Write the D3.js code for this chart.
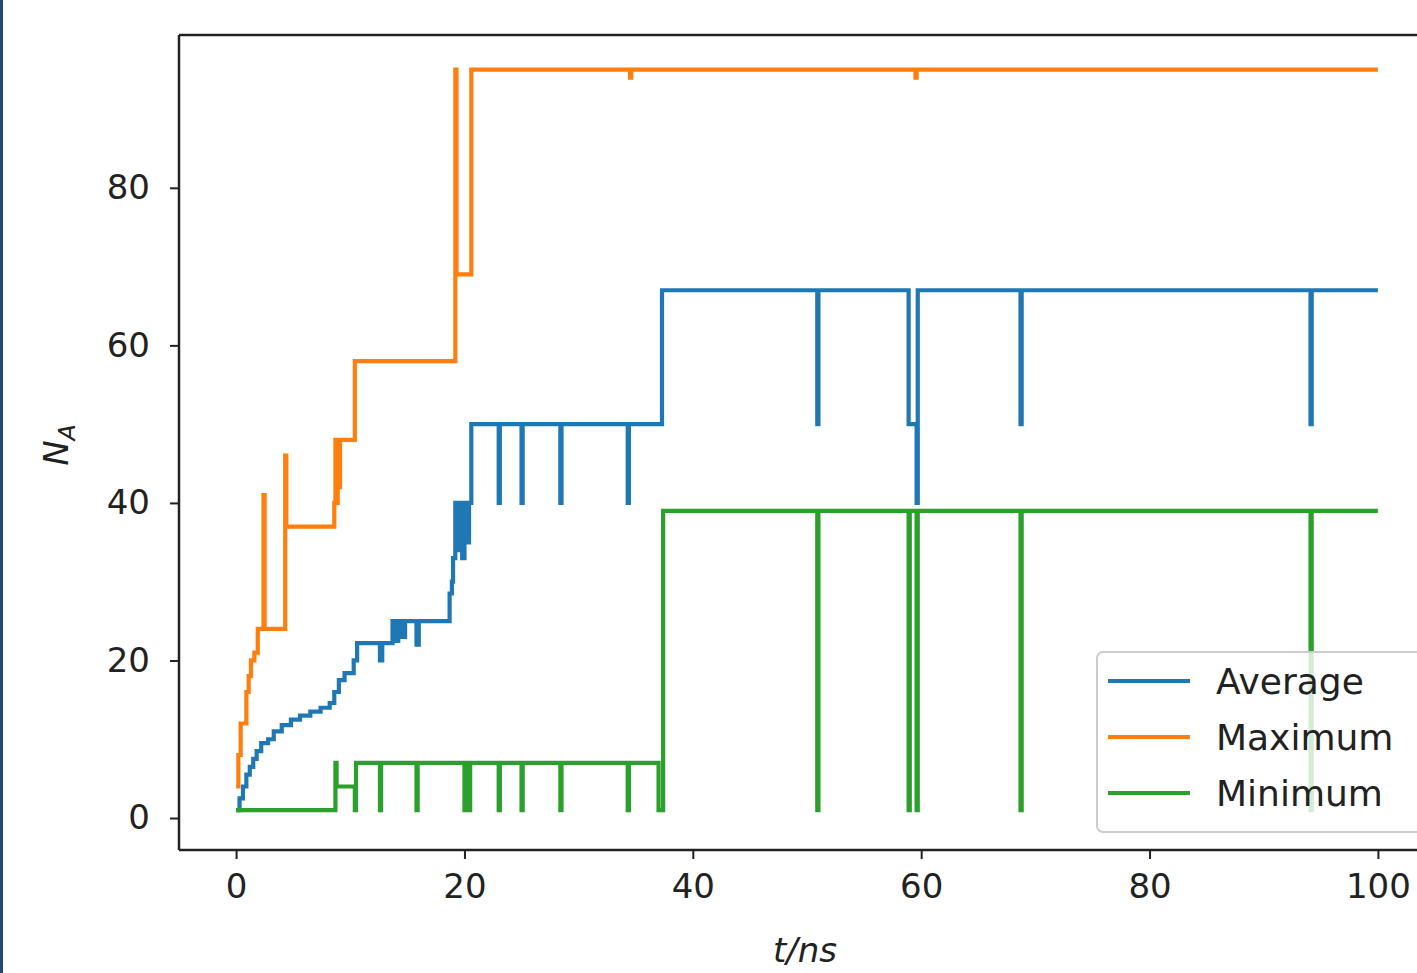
<!DOCTYPE html>
<html>
<head>
<meta charset="utf-8">
<script src="https://cdn.jsdelivr.net/npm/d3@7"></script>
<style>
  html, body { margin: 0; padding: 0; background: #fff; }
  svg { display: block; }
  text { font-family: "DejaVu Sans", sans-serif; fill: #222; }
</style>
</head>
<body>
<svg id="chart" width="1417" height="973"></svg>
<script>
// ---- data (t in ns, N_A) ----
const seriesNames = ["Average", "Maximum", "Minimum"];
const seriesColors = ["#1f77b4", "#ff7f0e", "#2ca02c"];

const averageT = [0,0.3,0.6,0.9,1.2,1.5,1.8,2.2,2.8,3.3,4.0,4.8,5.6,6.5,7.4,8.2,8.6,9.0,9.5,10.3,10.6,12.6,12.8,13.7,13.9,14.2,14.5,14.8,15.8,16.0,18.7,18.9,19.0,19.2,19.4,19.6,19.8,20.0,20.2,20.4,20.6,23.0,23.1,25.0,25.1,28.4,28.5,34.3,34.4,37.3,50.9,51.0,58.9,59.6,59.7,68.7,68.8,94.1,94.2,100];
const averageV = [1,2.5,4,5.5,6.5,7.5,8.5,9.5,10,11,11.8,12.5,13,13.5,14,14.6,16,17.5,18.4,20,22.2,20,22.2,25,22.5,25,23,25,22,25,28.5,30,33,40,34,40,33,40,35,40,50,40,50,40,50,40,50,40,50,67,50,67,50,40,67,50,67,50,67,67];

const maximumT = [0,0.2,0.4,0.7,0.9,1.1,1.3,1.6,1.9,2.4,2.5,4.3,4.4,8.6,8.7,8.8,8.9,9.0,9.1,10.4,19.2,19.3,20.6,34.5,34.6,59.5,59.6,100];
const maximumV = [4,8,12,12,16,18,20,21,24,41,24,46,37,40,48,40,48,42,48,58,95,69,95,94,95,94,95,95];

const minimumT = [0,8.7,8.8,10.4,10.5,12.6,12.7,15.8,15.9,20.0,20.1,20.4,20.5,23.0,23.1,25.0,25.1,28.4,28.5,34.3,34.4,37.0,37.4,50.9,51.0,58.9,59.0,59.6,59.7,68.7,68.8,94.1,94.2,100];
const minimumV = [1,7,4,1,7,1,7,1,7,1,7,1,7,1,7,1,7,1,7,1,7,1,39,1,39,1,39,1,39,1,39,1,39,39];

const xTicks = [0, 20, 40, 60, 80, 100];
const yTicks = [0, 20, 40, 60, 80];
const xLabel = "t/ns";

// ---- layout ----
const svg = d3.select("#chart");
const W = 1417, H = 973;
const mLeft = 179, mTop = 35, mBottom = 850, mRight = 1435;

const x = d3.scaleLinear().domain([-5, 105]).range([mLeft, mRight]);
const y = d3.scaleLinear().domain([-4.06, 99.4]).range([mBottom, mTop]);

// left navy frame strip
svg.append("rect").attr("x", 0).attr("y", 0).attr("width", 3).attr("height", H).attr("fill", "#1f477a");

svg.append("defs").append("clipPath").attr("id", "plotclip")
  .append("rect").attr("x", mLeft).attr("y", mTop).attr("width", mRight - mLeft).attr("height", mBottom - mTop);

const series = [
  {name: seriesNames[0], color: seriesColors[0], t: averageT, v: averageV},
  {name: seriesNames[1], color: seriesColors[1], t: maximumT, v: maximumV},
  {name: seriesNames[2], color: seriesColors[2], t: minimumT, v: minimumV}
];

const line = d3.line().x(d => x(d[0])).y(d => y(d[1])).curve(d3.curveStepAfter);

const g = svg.append("g").attr("clip-path", "url(#plotclip)");
series.forEach(s => {
  const pts = s.t.map((t, i) => [t, s.v[i]]);
  g.append("path").datum(pts)
    .attr("d", line)
    .attr("fill", "none")
    .attr("stroke", s.color)
    .attr("stroke-width", 4.2)
    .attr("stroke-linejoin", "miter");
});

// axes
const fs = 34;
const xAxis = d3.axisBottom(x).tickValues(xTicks).tickSize(9).tickPadding(15).tickFormat(d3.format("d"));
const yAxis = d3.axisLeft(y).tickValues(yTicks).tickSize(9).tickPadding(20).tickFormat(d3.format("d"));

const gx = svg.append("g").attr("transform", `translate(0,${mBottom})`).call(xAxis);
const gy = svg.append("g").attr("transform", `translate(${mLeft},0)`).call(yAxis);
[gx, gy].forEach(a => {
  a.select(".domain").remove();
  a.selectAll(".tick line").attr("stroke", "#222").attr("stroke-width", 2);
  a.selectAll(".tick text").attr("font-size", fs).attr("fill", "#222")
    .attr("font-family", "DejaVu Sans, sans-serif");
});

// spines
svg.append("line").attr("x1", mLeft).attr("x2", mLeft).attr("y1", mTop).attr("y2", mBottom).attr("stroke", "#222").attr("stroke-width", 2.5);
svg.append("line").attr("x1", mLeft).attr("x2", W).attr("y1", mBottom).attr("y2", mBottom).attr("stroke", "#222").attr("stroke-width", 2.5);
svg.append("line").attr("x1", mLeft).attr("x2", W).attr("y1", mTop).attr("y2", mTop).attr("stroke", "#222").attr("stroke-width", 2.5);

// axis labels
svg.append("text").attr("x", 805).attr("y", 962).attr("text-anchor", "middle")
  .attr("font-size", fs).attr("font-style", "italic").text(xLabel);

const yl = svg.append("text").attr("transform", "translate(68,445) rotate(-90)")
  .attr("text-anchor", "middle").attr("font-size", fs).attr("font-style", "italic");
yl.append("tspan").text("N");
yl.append("tspan").attr("font-size", fs * 0.7).attr("dy", 7).text("A");

// legend
const lg = svg.append("g");
lg.append("rect").attr("x", 1097).attr("y", 652).attr("width", 330).attr("height", 180)
  .attr("rx", 6).attr("fill", "#fff").attr("fill-opacity", 0.8).attr("stroke", "#ccc").attr("stroke-width", 2);
series.forEach((s, i) => {
  const yy = 681 + i * 56;
  lg.append("line").attr("x1", 1108).attr("x2", 1190).attr("y1", yy).attr("y2", yy)
    .attr("stroke", s.color).attr("stroke-width", 4.2);
  lg.append("text").attr("x", 1216).attr("y", yy + 13).attr("font-size", 36).text(s.name);
});
</script>
</body>
</html>
